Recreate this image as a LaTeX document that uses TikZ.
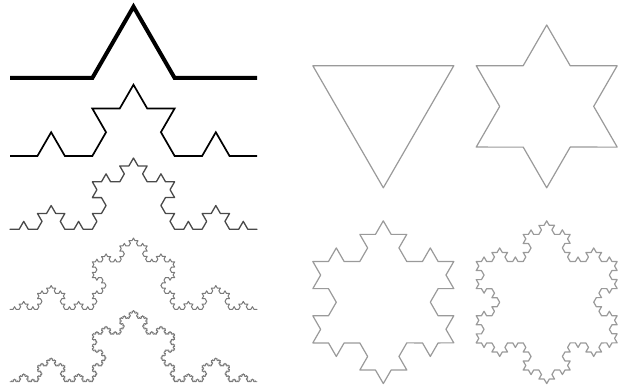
\documentclass[tikz,border=0pt]{standalone}
\usetikzlibrary{decorations.fractals}
\definecolor{flakegray}{HTML}{9A9A9A}
\definecolor{midgray}{HTML}{4A4A4A}
\definecolor{lightgray}{HTML}{7A7A7A}
\tikzset{
  koch/.style={decoration=Koch snowflake, line join=miter, line cap=butt},
  finekoch/.style={decoration=Koch snowflake, line join=round, line cap=round},
  flake/.style={finekoch, draw=flakegray, line width=1.2pt},
}
\begin{document}
\begin{tikzpicture}[x=1pt,y=1pt]
\useasboundingbox[fill=white] (0,0) rectangle (618,389);
% left: Koch curves, levels 1..5
\draw[koch, line width=4pt] decorate{ (10,311) -- (257,311) };
\draw[koch, line width=1.7pt] decorate{ decorate{ (10,233) -- (257,233) }};
\draw[finekoch, line width=1.3pt, draw=midgray] decorate{ decorate{ decorate{ (10,159.7) -- (257,159.7) }}};
\draw[finekoch, line width=1pt, draw=lightgray] decorate{ decorate{ decorate{ decorate{ (10,79.7) -- (257,79.7) }}}};
\draw[finekoch, line width=0.9pt, draw=lightgray] decorate{ decorate{ decorate{ decorate{ decorate{ (10,7.3) -- (257,7.3) }}}}};
% right: snowflakes, levels 0..3
\begin{scope}[shift={(383.3,282.6)}]
\draw[flake] (150:81.4) -- (30:81.4) -- (270:81.4) -- cycle;
\end{scope}
\begin{scope}[shift={(546.7,282.6)}]
\draw[flake] decorate{ (150:81.4) -- (30:81.4) -- (270:81.4) -- (150:81.4) };
\end{scope}
\begin{scope}[shift={(383.3,86.8)}]
\draw[flake] decorate{ decorate{ (150:81.4) -- (30:81.4) -- (270:81.4) -- (150:81.4) }};
\end{scope}
\begin{scope}[shift={(546.7,86.8)}]
\draw[flake] decorate{ decorate{ decorate{ (150:81.4) -- (30:81.4) -- (270:81.4) -- (150:81.4) }}};
\end{scope}
\end{tikzpicture}
\end{document}
